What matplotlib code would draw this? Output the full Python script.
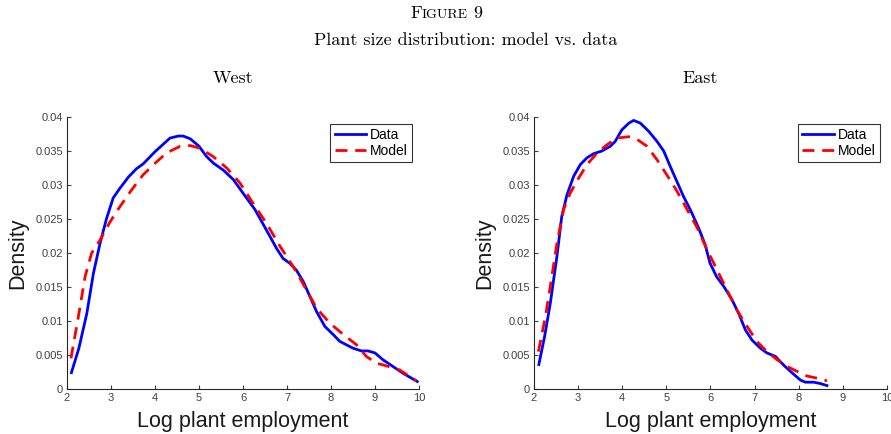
import matplotlib
matplotlib.use("Agg")
import matplotlib.pyplot as plt

# West
west_data_x = [2.1, 2.27, 2.45, 2.6, 2.75, 2.9, 3.05, 3.2, 3.4, 3.58, 3.73, 4.0, 4.34, 4.53, 4.64,
               4.8, 5.0, 5.17, 5.33, 5.55, 5.78, 6.0, 6.27, 6.53, 6.76, 6.91, 7.06, 7.21, 7.37,
               7.52, 7.67, 7.86, 8.05, 8.2, 8.5, 8.69, 8.84, 9.0, 9.18, 9.41, 9.64, 9.96]
west_data_y = [0.0024, 0.006, 0.0111, 0.017, 0.0214, 0.0251, 0.0281, 0.0295, 0.0312, 0.0324,
               0.0331, 0.0349, 0.0369, 0.0372, 0.0372, 0.0368, 0.0357, 0.0342, 0.0332, 0.0322,
               0.0308, 0.0288, 0.0264, 0.0234, 0.0207, 0.0192, 0.0185, 0.0175, 0.0158, 0.0136,
               0.0114, 0.0092, 0.008, 0.007, 0.006, 0.0056, 0.0056, 0.0053, 0.0043, 0.0033,
               0.0023, 0.0011]
west_model_x = [2.09, 2.26, 2.41, 2.56, 2.75, 2.98, 3.2, 3.47, 3.73, 4.0, 4.26, 4.57, 4.8, 5.02,
                5.32, 5.63, 5.93, 6.23, 6.53, 6.84, 7.14, 7.44, 7.67, 7.97, 8.28, 8.58, 8.8,
                9.03, 9.26, 9.56, 9.94]
west_model_y = [0.0045, 0.0107, 0.0165, 0.02, 0.0219, 0.0246, 0.0268, 0.0293, 0.0315, 0.0332,
                0.0347, 0.0357, 0.0358, 0.0354, 0.0342, 0.0325, 0.0303, 0.0273, 0.0244, 0.021,
                0.018, 0.0146, 0.0119, 0.0097, 0.008, 0.0065, 0.0048, 0.0038, 0.0034, 0.0028,
                0.0012]

# East
east_data_x = [2.11, 2.24, 2.37, 2.52, 2.63, 2.75, 2.9, 3.05, 3.2, 3.35, 3.54, 3.73, 3.84, 3.99,
               4.15, 4.26, 4.41, 4.6, 4.79, 4.94, 5.09, 5.24, 5.39, 5.54, 5.73, 5.88, 5.99, 6.14,
               6.3, 6.49, 6.64, 6.79, 6.94, 7.13, 7.28, 7.47, 7.66, 7.81, 8.04, 8.15, 8.34, 8.49,
               8.64]
east_data_y = [0.0036, 0.0077, 0.0126, 0.0195, 0.0254, 0.0286, 0.0313, 0.033, 0.034, 0.0346,
               0.035, 0.0357, 0.0364, 0.0381, 0.0391, 0.0395, 0.0391, 0.0379, 0.0364, 0.035,
               0.0327, 0.0305, 0.0283, 0.0264, 0.0237, 0.0212, 0.0185, 0.0165, 0.0151, 0.0131,
               0.0111, 0.0087, 0.0072, 0.006, 0.0053, 0.0048, 0.0035, 0.0026, 0.0013, 0.001,
               0.001, 0.0008, 0.0005]
east_model_x = [2.1, 2.26, 2.37, 2.52, 2.67, 2.82, 3.01, 3.2, 3.43, 3.65, 3.88, 4.15, 4.34, 4.56,
                4.79, 5.01, 5.24, 5.47, 5.7, 5.92, 6.15, 6.37, 6.6, 6.83, 7.05, 7.28, 7.51, 7.74,
                7.96, 8.19, 8.41, 8.64]
east_model_y = [0.0055, 0.0107, 0.0151, 0.0214, 0.0264, 0.0288, 0.031, 0.033, 0.0347, 0.0359,
                0.0369, 0.0371, 0.0367, 0.0357, 0.0337, 0.0315, 0.0291, 0.0264, 0.0237, 0.0205,
                0.0175, 0.0146, 0.0116, 0.0092, 0.007, 0.0055, 0.0043, 0.0033, 0.0026, 0.0019,
                0.0016, 0.0012]

x_ticks = [2, 3, 4, 5, 6, 7, 8, 9, 10]
y_ticks = [0, 0.005, 0.01, 0.015, 0.02, 0.025, 0.03, 0.035, 0.04]
y_labels = ["0", "0.005", "0.01", "0.015", "0.02", "0.025", "0.03", "0.035", "0.04"]

plt.rcParams['font.family'] = ['Liberation Sans', 'DejaVu Sans']
gray = "#262626"

fig = plt.figure(figsize=(8.91, 4.34), dpi=100)

panels = [
    ([0.0752, 0.1037, 0.3951, 0.6267], "West", west_data_x, west_data_y, west_model_x, west_model_y),
    ([0.5993, 0.1037, 0.3962, 0.6267], "East", east_data_x, east_data_y, east_model_x, east_model_y),
]

for pos, name, dx, dy, mx, my in panels:
    ax = fig.add_axes(pos)
    ax.plot(dx, dy, color="#0000ff", lw=2.0, label="Data")
    ax.plot(mx, my, color="#ff0000", lw=2.0, ls=(0, (4.3, 2.8)), label="Model")
    ax.set_xlim(2, 10)
    ax.set_ylim(0, 0.04)
    ax.set_xticks(x_ticks)
    ax.set_yticks(y_ticks)
    ax.set_yticklabels(y_labels)
    ax.spines['top'].set_visible(False)
    ax.spines['right'].set_visible(False)
    for s in ['left', 'bottom']:
        ax.spines[s].set_color(gray)
        ax.spines[s].set_linewidth(0.8)
    ax.tick_params(direction="in", length=3, width=0.8, labelsize=8, colors="#404040", pad=3)
    ax.set_xlabel("Log plant employment", fontsize=15.5, labelpad=6, color="#1a1a1a")
    ax.set_ylabel("Density", fontsize=15.5, labelpad=5, color="#1a1a1a")
    leg = ax.legend(loc="upper right", bbox_to_anchor=(0.98, 0.975), fontsize=10,
                    frameon=True, fancybox=False, handlelength=2.3, borderpad=0.3,
                    labelspacing=0.15, handletextpad=0.25, borderaxespad=0)
    leg.get_frame().set_edgecolor("black")
    leg.get_frame().set_linewidth(0.8)
    cx = pos[0] + pos[2] / 2 - 10 / 891
    fig.text(cx, 1 - 78 / 434, name, fontfamily="cmr10", fontsize=13, ha="center", va="center")

# small caps "FIGURE 9"
renderer = fig.canvas.get_renderer()
parts = [("F", 13), ("IGURE", 10), (" 9", 13)]
texts = []
for s, fs in parts:
    t = fig.text(0, 1 - 18 / 434, s, fontfamily="cmr10", fontsize=fs, ha="left", va="baseline")
    texts.append(t)
widths = [t.get_window_extent(renderer).width for t in texts]
total = sum(widths)
x0 = 446.5 - total / 2
for t, w in zip(texts, widths):
    t.set_x(x0 / 891)
    x0 += w

fig.text(466 / 891, 1 - 40 / 434, "Plant size distribution: model vs. data",
         fontfamily="cmr10", fontsize=13, ha="center", va="center")

fig.savefig("out.png", dpi=100)
